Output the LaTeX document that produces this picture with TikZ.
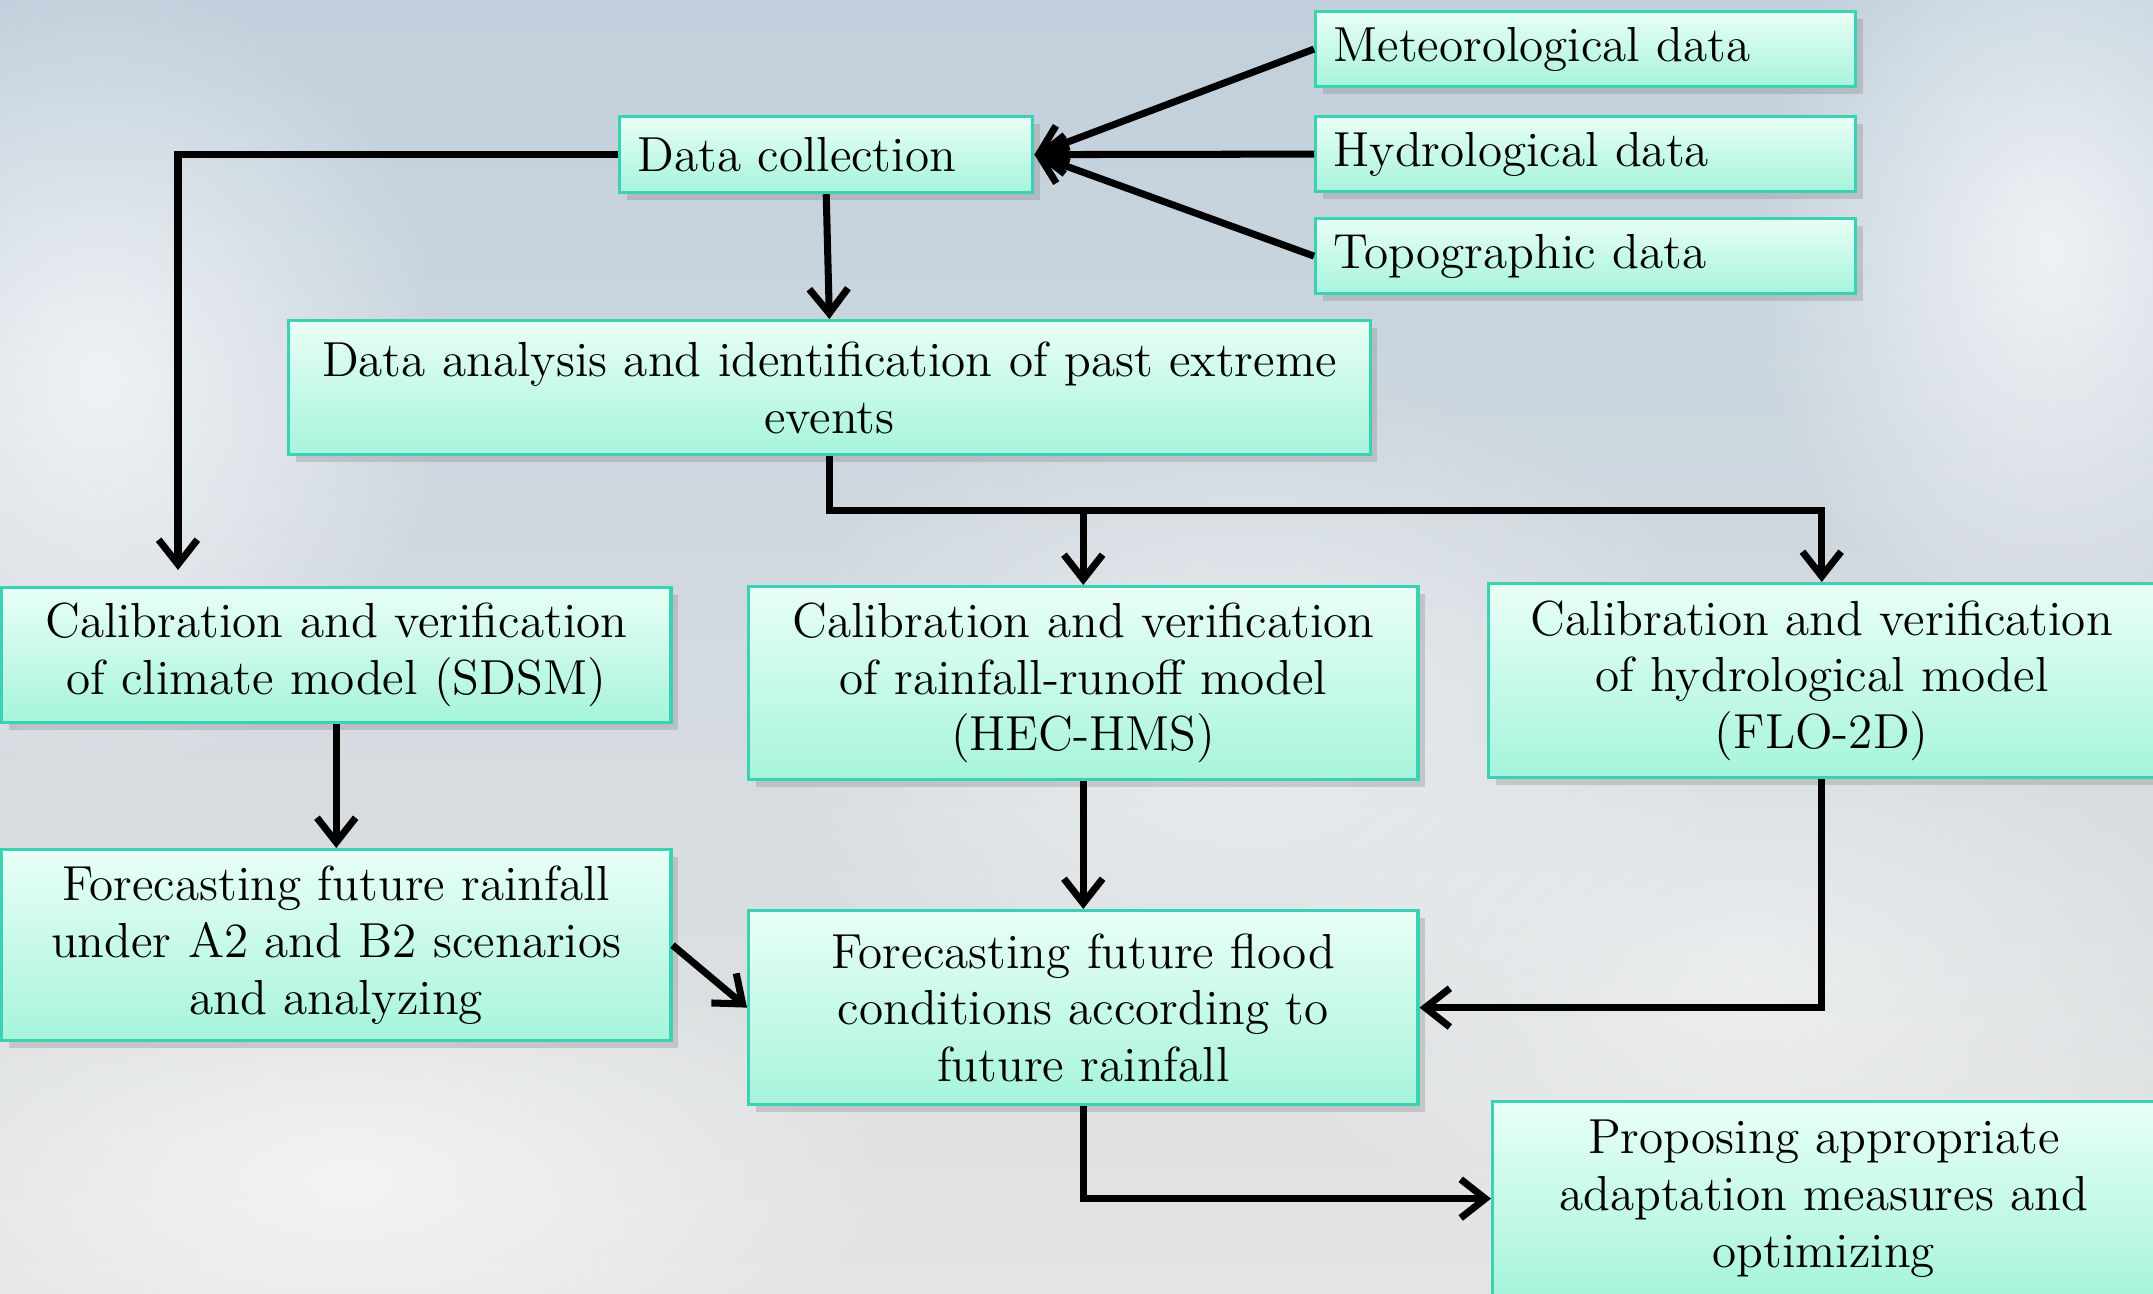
\documentclass[tikz,border=0pt]{standalone}
\usetikzlibrary{arrows.meta,shadows,fadings}

\definecolor{boxtop}{HTML}{E9FFF6}
\definecolor{boxbot}{HTML}{A6F4DC}
\definecolor{boxline}{HTML}{3AD2B2}
\definecolor{skytop}{HTML}{C1D0DC}
\definecolor{skybot}{HTML}{E4E4E3}

\tikzfading[name=softpuff, inner color=transparent!0, outer color=transparent!100]

\tikzset{
  stepbox/.style={draw=boxline, line width=0.9pt, top color=boxtop, bottom color=boxbot,
    drop shadow={shadow xshift=2pt, shadow yshift=-2pt, opacity=0.3},
    anchor=north west, inner sep=0pt, align=center,
    font=\fontsize{14}{16.1}\selectfont},
  srcbox/.style={stepbox, align=left},
  flow/.style={line width=2pt, -{Straight Barb[length=7pt,width=11pt]}},
  puff/.style={white, path fading=softpuff}
}

\begin{document}
\begin{tikzpicture}[x=0.01cm, y=-0.01cm]
% sky
\fill[top color=skytop, bottom color=skybot] (0,0) rectangle (2153,1294);
\useasboundingbox (0,0) rectangle (2153,1294);
\fill[puff, opacity=0.7] (100,380) ellipse (3.5cm and 4cm);
\fill[puff, opacity=0.7] (2050,250) ellipse (3cm and 4cm);
\fill[puff, opacity=0.5] (1250,720) ellipse (5cm and 3.5cm);
\fill[puff, opacity=0.6] (350,1180) ellipse (5.5cm and 2.5cm);
\fill[puff, opacity=0.45] (1750,980) ellipse (5cm and 3cm);

% inputs
\node[srcbox, minimum width=5.40cm, minimum height=0.75cm, text width=5.04cm] (met) at (1314,10) {Meteorological data};
\node[srcbox, minimum width=5.40cm, minimum height=0.75cm, text width=5.04cm] (hyd) at (1314,115) {Hydrological data};
\node[srcbox, minimum width=5.40cm, minimum height=0.75cm, text width=5.04cm] (topo) at (1314,217) {Topographic data};
\node[srcbox, minimum width=4.13cm, minimum height=0.76cm, text width=3.77cm] (coll) at (618,115) {Data collection};

% steps
\node[stepbox, minimum width=10.81cm, minimum height=1.34cm, text width=10.5cm] (anal) at (287,319) {Data analysis and identification of past extreme\\events};
\node[stepbox, minimum width=6.69cm, minimum height=1.35cm, text width=6.4cm] (sdsm) at (0,586) {Calibration and verification\\of climate model (SDSM)};
\node[stepbox, minimum width=6.69cm, minimum height=1.93cm, text width=6.4cm] (hec) at (747,585) {Calibration and verification\\of rainfall-runoff model\\(HEC-HMS)};
\node[stepbox, minimum width=6.66cm, minimum height=1.94cm, text width=6.4cm] (flo) at (1487,582) {Calibration and verification\\of hydrological model\\(FLO-2D)};
\node[stepbox, minimum width=6.69cm, minimum height=1.91cm, text width=6.4cm] (rain) at (0,848) {Forecasting future rainfall\\under A2 and B2 scenarios\\and analyzing};
\node[stepbox, minimum width=6.69cm, minimum height=1.94cm, text width=6.4cm] (flood) at (747,909) {Forecasting future flood\\conditions according to\\future rainfall};
\node[stepbox, minimum width=6.62cm, minimum height=1.94cm, text width=6.4cm] (prop) at (1491,1100) {Proposing appropriate\\adaptation measures and\\optimizing};

% arrows
\coordinate (sdsmin) at (178,570);
\draw[flow] (met.west) -- (coll.east);
\draw[flow] (hyd.west) -- (coll.east);
\draw[flow] (topo.west) -- (coll.east);
\draw[flow] (coll.west) -| (sdsmin);
\draw[flow] (coll.south) -- (anal.north);
\draw[flow] (anal.south) -- ++(0,54) -| (flo.north);
\draw[flow] (hec.north |- 0,507) -- (hec.north);
\draw[flow] (sdsm.south) -- (rain.north);
\draw[flow] (hec.south) -- (flood.north);
\draw[flow] (flo.south) |- (flood.east);
\draw[flow] (rain.east) -- (flood.west);
\draw[flow] (flood.south) |- (prop.west);
\end{tikzpicture}
\end{document}
